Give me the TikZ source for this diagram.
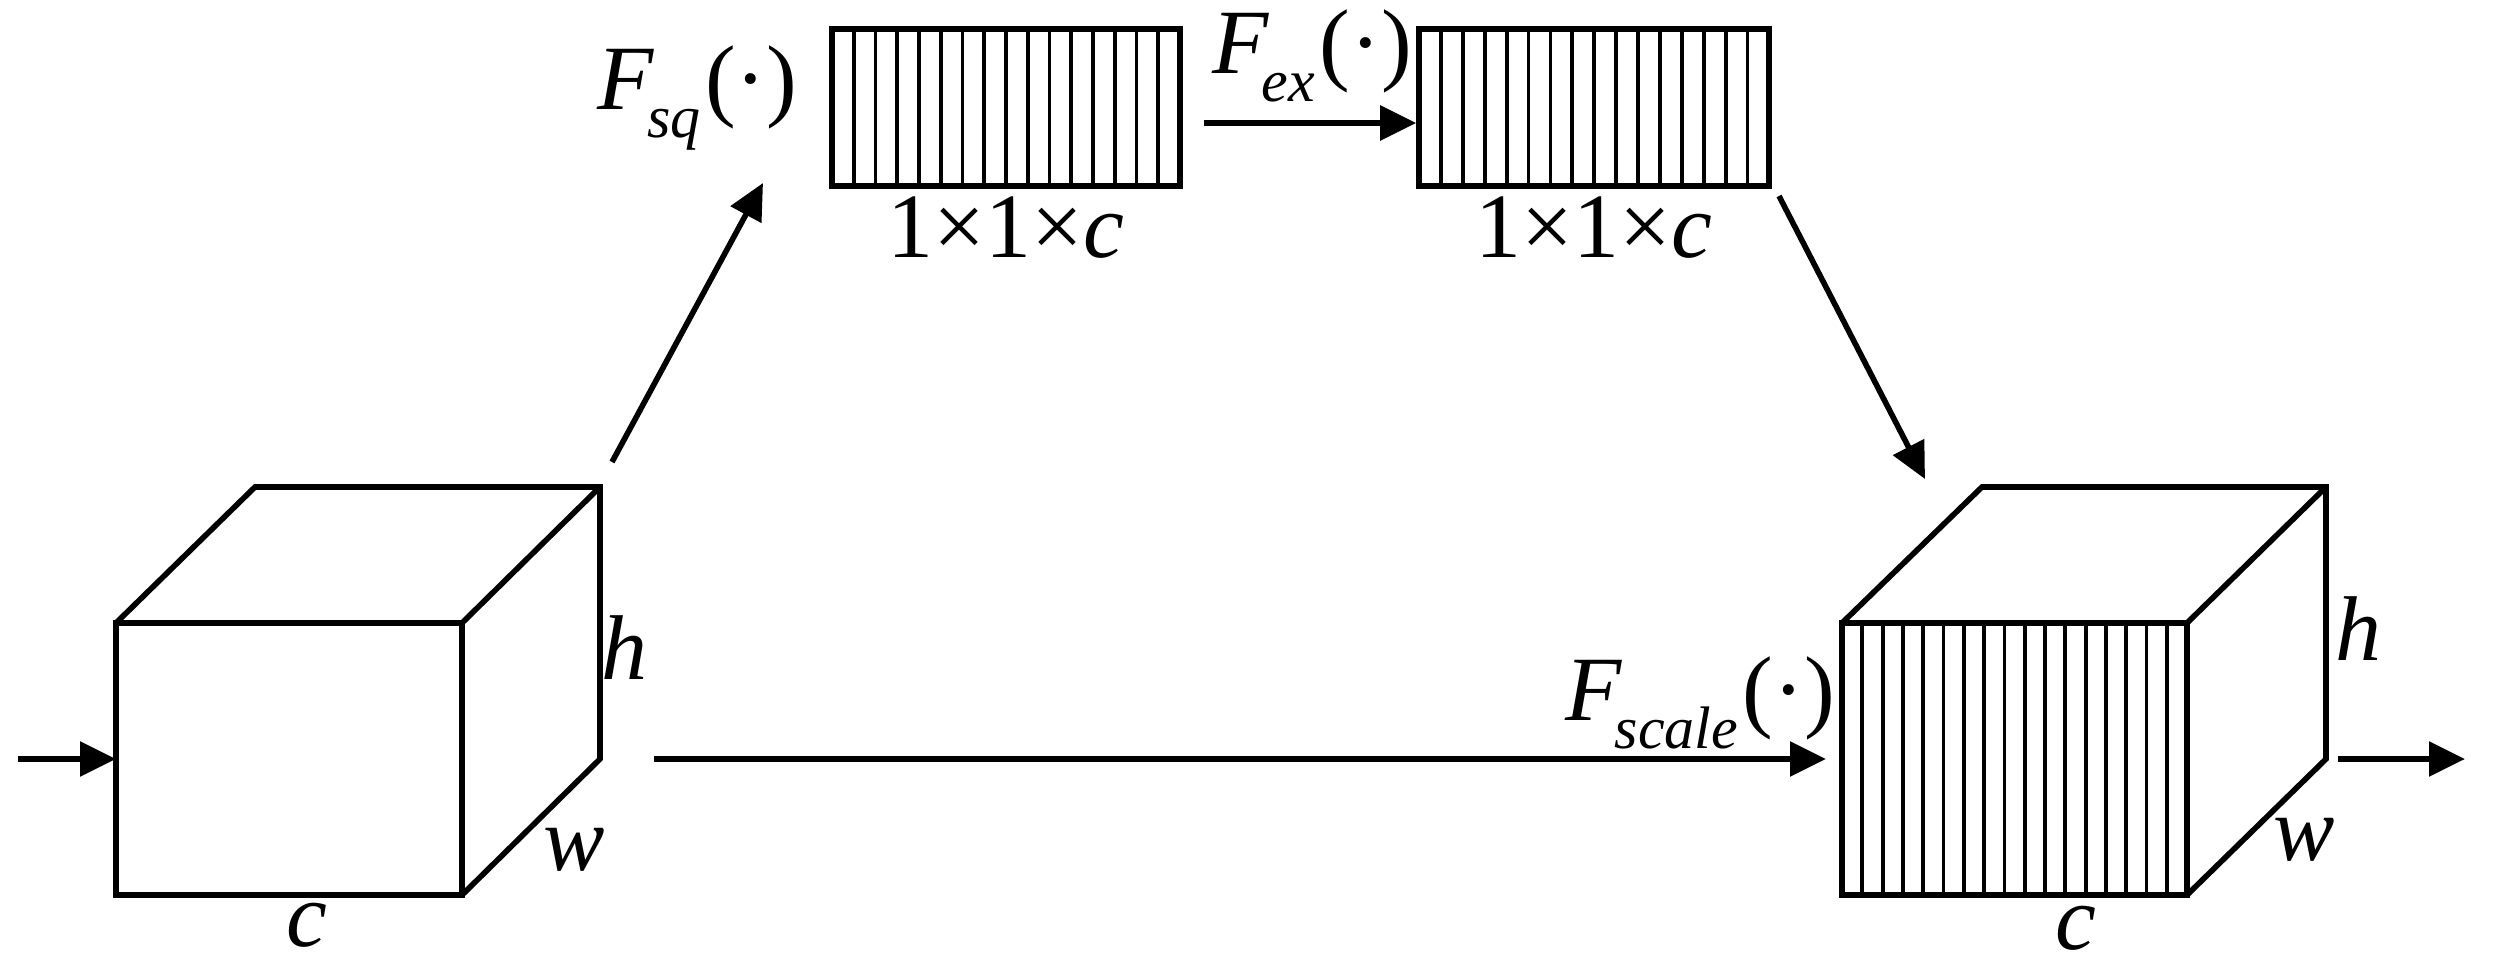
\documentclass[tikz,border=0pt]{standalone}
\usepackage{fontspec}
\setmainfont{Liberation Serif}
\usetikzlibrary{arrows.meta}
\newcommand{\Fop}[1]{\textit{F}\kern-0.08em\raisebox{-0.3em}{\fontsize{30}{33}\selectfont\textit{#1}}\kern0.05em(\textperiodcentered)}
\begin{document}
\begin{tikzpicture}[x=0.5pt,y=-0.5pt,line width=2.8pt,
  arr/.style={-{Triangle[length=18pt,width=17pt]}},
  lbl/.style={font=\fontsize{46}{52}\selectfont,inner sep=0pt},
  edge/.style={line join=miter}]
\useasboundingbox (0,0) rectangle (2502,974);
% left cube
\draw[edge] (116,623) rectangle (462,895);
\draw[edge] (116,623) -- (255,487) -- (600,487) -- (600,759) -- (462,895);
\draw[edge] (462,623) -- (600,487);
\coordinate (inL) at (18,759); \coordinate (cubeL) at (116,759);
\draw[arr] (inL) -- (cubeL);
\node[lbl] (hL) at (624,648) {\textit{h}};
\node[lbl] (wL) at (574,850) {\textit{w}};
\node[lbl] (cL) at (307,925) {\textit{c}};
% bar1
\node[draw,minimum width=174pt,minimum height=78.5pt,inner sep=0pt] (b1) at (1006,107.5) {};
\foreach \i in {1,...,15} \draw[line width=1.9pt] (832+\i*21.75,29) -- (832+\i*21.75,186);
\node[lbl] at (1006,228) {1×1×\textit{c}};
\node[lbl,anchor=east] (fsq) at (800,98) {\Fop{sq}};
\coordinate (a1s) at (612,462); \coordinate (a1e) at (763,183);
\draw[arr] (a1s) -- (a1e);
% bar2
\node[draw,minimum width=175pt,minimum height=78.5pt,inner sep=0pt] (b2) at (1594,107.5) {};
\foreach \i in {1,...,15} \draw[line width=1.9pt] (1419+\i*21.9,29) -- (1419+\i*21.9,186);
\node[lbl] at (1594,228) {1×1×\textit{c}};
\coordinate (a2s) at (1204,123);
\draw[arr] (a2s) -- (a2s -| b2.west);
\node[lbl] (fex) at (1312,56) {\Fop{ex}};
\coordinate (a3s) at (1779,196); \coordinate (a3e) at (1925,479);
\draw[arr] (a3s) -- (a3e);
% right cube
\foreach \i in {1,...,16} \draw[line width=1.9pt] (1842+\i*20.3,623) -- (1842+\i*20.3,895);
\draw[edge] (1842,623) rectangle (2187,895);
\draw[edge] (1842,623) -- (1982,487) -- (2326,487) -- (2326,759) -- (2187,895);
\draw[edge] (2187,623) -- (2326,487);
\node[lbl] (hR) at (2358,629) {\textit{h}};
\node[lbl] (wR) at (2304,840) {\textit{w}};
\node[lbl] (cR) at (2076,928) {\textit{c}};
\coordinate (ms) at (654,759); \coordinate (me) at (1826,759);
\draw[arr] (ms) -- (me);
\node[lbl] (fsc) at (1700,703) {\Fop{scale}};
\coordinate (os) at (2338,759); \coordinate (oe) at (2465,759);
\draw[arr] (os) -- (oe);
\end{tikzpicture}
\end{document}
